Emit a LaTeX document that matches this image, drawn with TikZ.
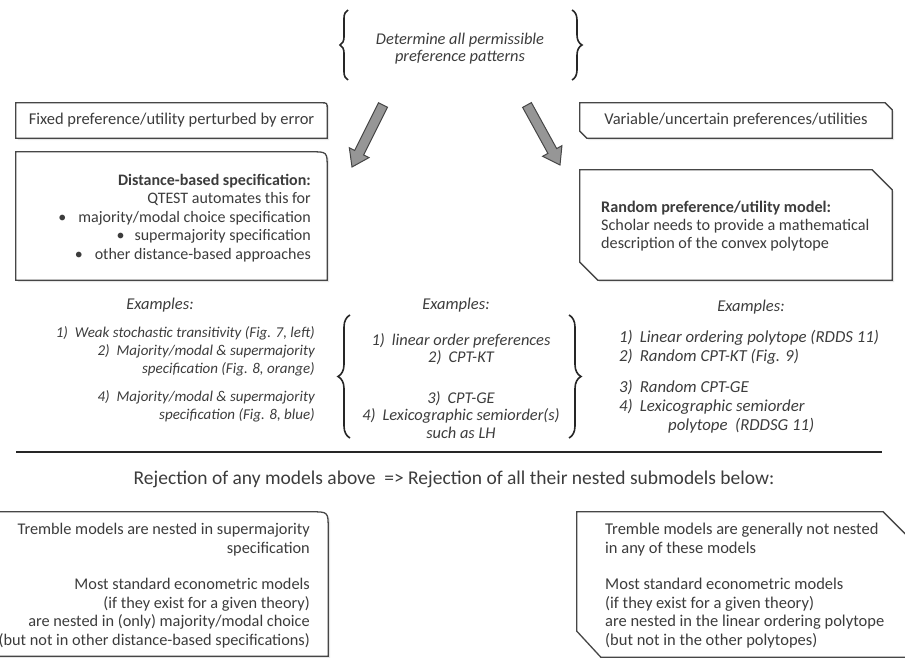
\documentclass[tikz,border=0pt]{standalone}
\usepackage{fontspec}
\setmainfont{Carlito}
\usetikzlibrary{calc,decorations.pathreplacing,shadows}
\definecolor{txt}{RGB}{60,60,60}
\definecolor{edge}{RGB}{70,70,70}
\definecolor{arrfill}{RGB}{150,150,150}
\begin{document}
\begin{tikzpicture}[x=1pt,y=-1pt,
  txtnode/.style={text=txt, inner sep=0pt, font=\fontsize{16.3}{18.5}\selectfont},
  exnode/.style={text=txt, inner sep=0pt, font=\fontsize{15}{18}\selectfont\itshape},
  boxarea/.style={inner sep=0pt, text=txt, font=\fontsize{16.5}{18.5}\selectfont},
  boxline/.style={draw=edge, line width=1.3pt, fill=white, drop shadow={opacity=0.2, shadow xshift=2pt, shadow yshift=-2pt}},
  bracestyle/.style={draw=black!85, line width=1.6pt, decorate, decoration={brace, amplitude=#1}},
  blockarrow/.style={draw=edge, line width=1pt, fill=arrfill},
  rulestyle/.style={draw=black!85, line width=2pt}]
\useasboundingbox (0,0) rectangle (905,658);

% top
\node[exnode, font=\fontsize{16.4}{17}\selectfont\itshape, align=center] (determine) at (460,48.5) {Determine all permissible\\preference patterns};
\draw[bracestyle=8pt] (348,80) -- (348,10);
\draw[bracestyle=10pt] (572,10) -- (572,80);

% boxes
\node[boxarea, minimum width=311, minimum height=35] (fixedbox) at (171.5,120.5) {};
\draw[boxline] (fixedbox.north west) -- ($(fixedbox.north east)+(-6,0)$) .. controls (fixedbox.north east) .. ($(fixedbox.north east)+(0,6)$) -- (fixedbox.south east) -- (fixedbox.south west) -- cycle;
\node[boxarea] (fixedtext) at (fixedbox.center) {Fixed preference/utility perturbed by error};

\node[boxarea, minimum width=311, minimum height=128] (distbox) at (171.5,216) {};
\draw[boxline] (distbox.north west) -- ($(distbox.north east)+(-16,0)$) .. controls (distbox.north east) .. ($(distbox.north east)+(0,16)$) -- (distbox.south east) -- (distbox.south west) -- cycle;
\node[txtnode, font=\fontsize{16}{18.5}\selectfont, anchor=east, align=right] (disttext) at (311,218) {\textbf{Distance-based specification:}\\QTEST automates this for\\\textbullet\hspace{12pt}majority/modal choice specification\\\textbullet\hspace{10pt}supermajority specification\\\textbullet\hspace{12pt}other distance-based approaches};

\node[boxarea, minimum width=312, minimum height=35] (varbox) at (736,120.5) {};
\draw[boxline] (varbox.north west) -- ($(varbox.north east)+(-7,0)$) -- ($(varbox.north east)+(0,7)$) -- (varbox.south east) -- ($(varbox.south west)+(7,0)$) -- ($(varbox.south west)+(0,-7)$) -- cycle;
\node[boxarea] (vartext) at (varbox.center) {Variable/uncertain preferences/utilities};

\node[boxarea, minimum width=312, minimum height=110] (randbox) at (736,225) {};
\draw[boxline] (randbox.north west) -- ($(randbox.north east)+(-20,0)$) -- ($(randbox.north east)+(0,20)$) -- (randbox.south east) -- ($(randbox.south west)+(18,0)$) -- ($(randbox.south west)+(0,-18)$) -- cycle;
\node[txtnode, font=\fontsize{16.2}{18}\selectfont, anchor=west, align=left] (randtext) at (601,226) {\textbf{Random preference/utility model:}\\Scholar needs to provide a mathematical\\description of the convex polytope};

% arrows
\coordinate (la1) at (383,105); \coordinate (la2) at (352,167);
\coordinate (lah) at ($(la2)!16pt!(la1)$);
\draw[blockarrow] ($(la1)!5pt!90:(la2)$) -- ($(lah)!5pt!90:(la2)$) -- ($(lah)!11pt!90:(la2)$) -- (la2) -- ($(lah)!11pt!-90:(la2)$) -- ($(lah)!5pt!-90:(la2)$) -- ($(la1)!5pt!-90:(la2)$) -- cycle;
\coordinate (ra1) at (527,105); \coordinate (ra2) at (560,165);
\coordinate (rah) at ($(ra2)!16pt!(ra1)$);
\draw[blockarrow] ($(ra1)!5pt!90:(ra2)$) -- ($(rah)!5pt!90:(ra2)$) -- ($(rah)!11pt!90:(ra2)$) -- (ra2) -- ($(rah)!11pt!-90:(ra2)$) -- ($(rah)!5pt!-90:(ra2)$) -- ($(ra1)!5pt!-90:(ra2)$) -- cycle;

% examples
\node[exnode, font=\fontsize{16.5}{18}\selectfont\itshape] (exl) at (160,305) {Examples:};
\node[exnode, font=\fontsize{16.5}{18}\selectfont\itshape] (exc) at (456,305) {Examples:};
\node[exnode, font=\fontsize{16.5}{18}\selectfont\itshape] (exr) at (751,307) {Examples:};
\node[exnode, anchor=east, align=right] (exltext) at (315,374) {1)\hspace{7pt}Weak stochastic transitivity (Fig. 7, left)\\2)\hspace{7pt}Majority/modal \& supermajority\\specification (Fig. 8, orange)\\[10pt]4)\hspace{7pt}Majority/modal \& supermajority\\specification (Fig. 8, blue)};
\node[exnode, font=\fontsize{16.4}{17.5}\selectfont\itshape, align=center] (exctext) at (461,386) {1)\hspace{7pt}linear order preferences\\2)\hspace{7pt}CPT-KT\\[23pt]3)\hspace{7pt}CPT-GE\\4)\hspace{7pt}Lexicographic semiorder(s)\\such as LH};
\node[exnode, font=\fontsize{16.8}{19}\selectfont\itshape, anchor=west, align=left] (exrtext) at (619,382) {1)\hspace{7pt}Linear ordering polytope (RDDS 11)\\2)\hspace{7pt}Random CPT-KT (Fig. 9)\\[12pt]3)\hspace{7pt}Random CPT-GE\\4)\hspace{7pt}Lexicographic semiorder\\\hspace*{49pt}polytope\ \ (RDDSG 11)};
\draw[bracestyle=12pt] (350,438) -- (350,315);
\draw[bracestyle=12pt] (569,315) -- (569,438);

% rule
\coordinate (rulel) at (16,452); \coordinate (ruler) at (882,452);
\draw[rulestyle] (rulel) -- (ruler);
\node[txtnode, font=\fontsize{19.5}{20}\selectfont] (reject) at (454,479) {Rejection of any models above\ \ => Rejection of all their nested submodels below:};

% bottom boxes
\node[boxarea, minimum width=333, minimum height=144] (tremlbox) at (161.5,584) {};
\draw[boxline] (tremlbox.north west) -- ($(tremlbox.north east)+(-17,0)$) .. controls (tremlbox.north east) .. ($(tremlbox.north east)+(0,17)$) -- (tremlbox.south east) -- (tremlbox.south west) -- cycle;
\node[txtnode, anchor=east, align=right] (tremltext) at (310,585.5) {Tremble models are nested in supermajority\\specification\\[18pt]Most standard econometric models\\(if they exist for a given theory)\\are nested in (only) majority/modal choice\\(but not in other distance-based specifications)};

\node[boxarea, minimum width=335, minimum height=145] (tremrbox) at (744.5,584.5) {};
\draw[boxline] (tremrbox.north west) -- ($(tremrbox.north east)+(-29,0)$) -- ($(tremrbox.north east)+(0,29)$) -- (tremrbox.south east) -- ($(tremrbox.south west)+(24,0)$) -- ($(tremrbox.south west)+(0,-26)$) -- cycle;
\node[txtnode, font=\fontsize{16.5}{18.5}\selectfont, anchor=west, align=left] (tremrtext) at (605,585.5) {Tremble models are generally not nested\\in any of these models\\[18pt]Most standard econometric models\\(if they exist for a given theory)\\are nested in the linear ordering polytope\\(but not in the other polytopes)};
\end{tikzpicture}
\end{document}
